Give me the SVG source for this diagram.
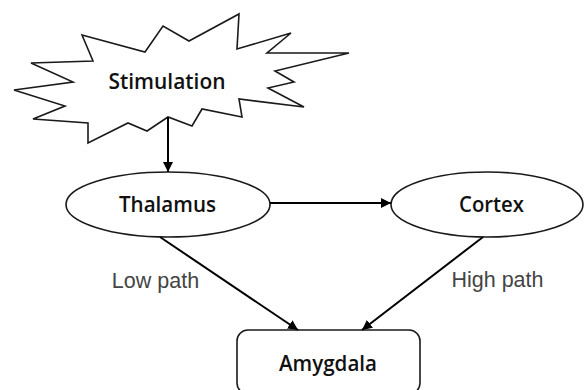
<svg xmlns="http://www.w3.org/2000/svg" width="584" height="390" viewBox="0 0 584 390">
<style>
.shape{fill:#fff;stroke:#1a1a1a;stroke-width:1.6}
.lbl{font-family:"Open Sans","Liberation Sans",Arial,sans-serif;font-weight:600;font-size:21px;fill:#111;text-anchor:middle}
.path{font-family:"Liberation Sans",Arial,sans-serif;font-size:21.5px;fill:#444;text-anchor:middle}
.edge{stroke:#000;stroke-width:2;fill:none;marker-end:url(#ah)}
</style>
<defs>
<marker id="ah" viewBox="0 0 10 10" refX="10" refY="5" markerWidth="5" markerHeight="5" markerUnits="strokeWidth" orient="auto">
<path d="M0,0 L10,5 L0,10 z" fill="#000"/>
</marker>
</defs>
<rect width="584" height="390" fill="#fff"/>
<g id="stimulation">
<polygon class="shape" points="82,35 145,52 163,26 189,41 239,14 237,49 291,33 267,53 349,53 275,71 294,82 268,88 304,107 239,99 242,117 202,109 192,126 168,117 147,131 128,123 88,143 88,123 33,119 65,106 14,90 73,82 31,63 93,61"/>
<text class="lbl" x="167" y="89" textLength="117" lengthAdjust="spacingAndGlyphs">Stimulation</text>
</g>
<g id="thalamus">
<ellipse class="shape" cx="168" cy="204.5" rx="102" ry="32.5"/>
<text class="lbl" x="167.5" y="211.5" textLength="97" lengthAdjust="spacingAndGlyphs">Thalamus</text>
</g>
<g id="cortex">
<ellipse class="shape" cx="487" cy="204.5" rx="96" ry="32.5"/>
<text class="lbl" x="491.5" y="211.5" textLength="65" lengthAdjust="spacingAndGlyphs">Cortex</text>
</g>
<g id="amygdala">
<rect class="shape" x="237" y="330" width="183" height="64" rx="11"/>
<text class="lbl" x="328" y="371" textLength="98" lengthAdjust="spacingAndGlyphs">Amygdala</text>
</g>
<g id="connectors">
<line class="edge" x1="168" y1="117" x2="168" y2="172"/>
<line class="edge" x1="270" y1="203" x2="391" y2="203"/>
<line class="edge" x1="160" y1="237" x2="298" y2="330"/>
<line class="edge" x1="483" y1="237" x2="362" y2="330"/>
</g>
<g id="labels">
<text class="path" x="155.5" y="288">Low path</text>
<text class="path" x="497.5" y="287">High path</text>
</g>
</svg>
